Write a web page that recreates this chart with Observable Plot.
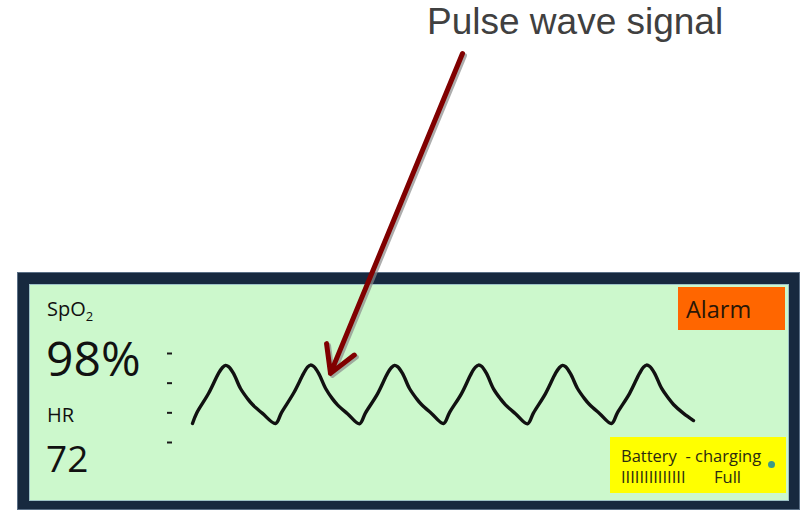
<!DOCTYPE html>
<html>
<head>
<meta charset="utf-8">
<script src="https://cdn.jsdelivr.net/npm/d3@7"></script>
<script src="https://cdn.jsdelivr.net/npm/@observablehq/plot@0.6"></script>
<style>
  html, body { margin: 0; padding: 0; background: #ffffff; }
  #wrap { position: relative; width: 804px; height: 514px; overflow: hidden; font-family: "Open Sans", sans-serif; }
  .abs { position: absolute; line-height: 1; white-space: pre; }
  #frame { position: absolute; left: 17px; top: 272px; width: 783px; height: 238px; background: #17293f;
           box-shadow: inset 0 0 0 1px #5a6f86; }
  #screen { position: absolute; left: 30px; top: 285px; width: 758px; height: 215px; background: #ccf8cc;
            box-shadow: 0 0 0 1px #9dc2c6; }
  #alarm { position: absolute; left: 678px; top: 287px; width: 107px; height: 43px; background: #ff6600; }
  #battery { position: absolute; left: 610px; top: 437px; width: 176px; height: 56px; background: #ffff00; }
  #dot { position: absolute; left: 767.5px; top: 460.5px; width: 7px; height: 7px; border-radius: 50%; background: #3a9a86; }
  #plot { position: absolute; left: 0; top: 0; }
</style>
</head>
<body>
<div id="wrap">
  <div id="frame"></div>
  <div id="screen"></div>
  <div id="alarm"></div>
  <div id="battery"></div>
  <div id="dot"></div>
  <div id="texts"></div>
  <div id="plot"></div>
</div>
<script>
// ---- data ----
const titleText = "Pulse wave signal";
const spo2Label = "SpO";
const spo2Sub = "2";
const spo2Value = "98%";
const hrLabel = "HR";
const hrValue = "72";
const alarmText = "Alarm";
const batteryText = "Battery  - charging";
const batteryBars = "IIIIIIIIIIIIII";
const batteryState = "Full";

// scale tick levels shown as short dashes at the left of the trace
const dashLevels = [0, 1, 2, 3];

// pulse wave (time in s, pleth amplitude in dash units)
const waveTime = [
  0.00, 0.04, 0.16, 0.26, 0.30, 0.33, 0.36, 0.41, 0.48, 0.55, 0.60, 0.70, 0.83,
  0.89, 1.01, 1.11, 1.15, 1.18, 1.21, 1.26, 1.33, 1.40, 1.45, 1.55, 1.67,
  1.73, 1.85, 1.95, 1.99, 2.02, 2.05, 2.10, 2.17, 2.24, 2.29, 2.39, 2.51,
  2.57, 2.69, 2.79, 2.83, 2.86, 2.89, 2.94, 3.01, 3.08, 3.13, 3.23, 3.35,
  3.41, 3.53, 3.63, 3.67, 3.70, 3.73, 3.78, 3.85, 3.92, 3.97, 4.07, 4.19,
  4.25, 4.37, 4.47, 4.51, 4.54, 4.57, 4.62, 4.69, 4.76, 4.81, 4.91, 5.01
];
const wavePleth = [
  0.64, 0.98, 1.65, 2.33, 2.53, 2.60, 2.56, 2.33, 1.82, 1.48, 1.28, 0.98, 0.64,
  1.01, 1.66, 2.32, 2.54, 2.61, 2.57, 2.34, 1.83, 1.47, 1.27, 0.97, 0.63,
  1.00, 1.64, 2.33, 2.53, 2.60, 2.56, 2.33, 1.82, 1.48, 1.28, 0.98, 0.64,
  1.01, 1.65, 2.34, 2.54, 2.61, 2.57, 2.33, 1.81, 1.47, 1.27, 0.97, 0.63,
  1.00, 1.65, 2.33, 2.53, 2.60, 2.56, 2.32, 1.82, 1.48, 1.28, 0.98, 0.64,
  1.01, 1.65, 2.33, 2.54, 2.61, 2.57, 2.34, 1.83, 1.49, 1.28, 0.98, 0.74
];

// annotation arrow: from label down to the trace (same units)
const arrowFrom = [2.70, 13.11];
const arrowTo = [1.38, 2.33];

// ---- build ----
const wave = waveTime.map((t, i) => ({t, v: wavePleth[i]}));
const arrow = [{x1: arrowFrom[0], y1: arrowFrom[1], x2: arrowTo[0], y2: arrowTo[1]}];

const plot = Plot.plot({
  width: 804,
  height: 514,
  marginLeft: 172,
  marginTop: 0,
  marginRight: 0,
  marginBottom: 0,
  x: {domain: [0, 5], range: [192, 692], axis: null},
  y: {domain: [0, 3], range: [442, 353]},
  style: {background: "transparent", overflow: "visible"},
  marks: [
    Plot.axisY({ticks: dashLevels, tickSize: 5, tickFormat: () => "", stroke: "#1a1a1a", strokeWidth: 2, label: null}),
    Plot.line(wave, {x: "t", y: "v", stroke: "#111111", strokeWidth: 3.4, curve: "catmull-rom", strokeLinejoin: "round", strokeLinecap: "round"}),
    Plot.arrow(arrow, {x1: "x1", y1: "y1", x2: "x2", y2: "y2", stroke: "#8a8a8a", strokeOpacity: 0.7, strokeWidth: 5, headLength: 9, headAngle: 60, dx: 2, dy: 2}),
    Plot.arrow(arrow, {x1: "x1", y1: "y1", x2: "x2", y2: "y2", stroke: "#800000", strokeWidth: 5, headLength: 9, headAngle: 60})
  ]
});
document.getElementById("plot").appendChild(plot);

// ---- text ----
// Open Sans: baseline = top + 0.888*fs (line-height 1); Liberation Sans: top + 0.8465*fs
function addText(txt, left, baseline, fs, opts = {}) {
  const d = document.createElement("div");
  d.className = "abs";
  const k = opts.family === "Liberation Sans" ? 0.8465 : 0.888;
  d.style.left = left + "px";
  d.style.top = (baseline - k * fs) + "px";
  d.style.fontSize = fs + "px";
  if (opts.family) d.style.fontFamily = '"' + opts.family + '", sans-serif';
  d.style.color = opts.color || "#111111";
  if (opts.html) d.innerHTML = txt; else d.textContent = txt;
  document.getElementById("texts").appendChild(d);
  return d;
}
addText(titleText, 427, 34, 37, {family: "Liberation Sans", color: "#404040"});
addText(spo2Label + '<span style="font-size:13px;vertical-align:-5px">' + spo2Sub + '</span>', 47, 317, 20, {html: true});
addText(spo2Value, 46, 377, 48);
addText(hrLabel, 47, 423, 20);
addText(hrValue, 46, 472, 37);
addText(alarmText, 686, 319, 23.5, {color: "#2a1606"});
addText(batteryText, 621, 463, 16.5, {color: "#2b2b10"});
addText(batteryBars, 621, 484, 16.5, {color: "#2b2b10"});
addText(batteryState, 714, 484, 16.5, {color: "#2b2b10"});
</script>
</body>
</html>
